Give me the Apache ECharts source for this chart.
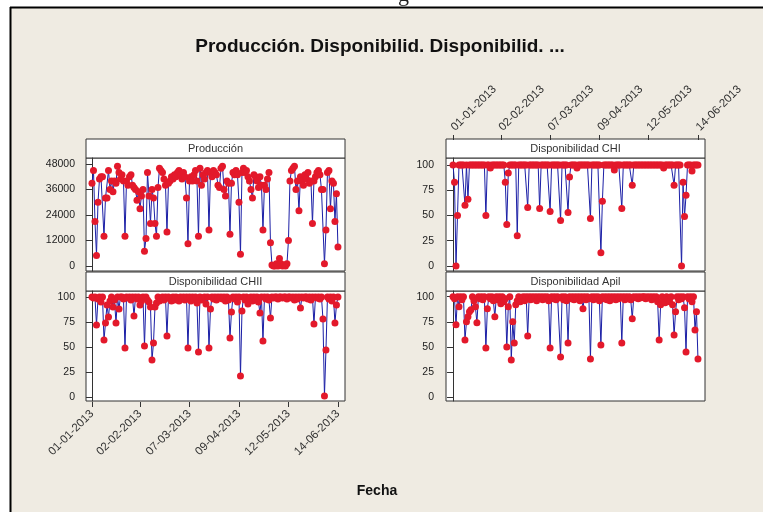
<!DOCTYPE html>
<html><head><meta charset="utf-8">
<script src="https://cdn.jsdelivr.net/npm/echarts@6/dist/echarts.min.js"></script>
<style>html,body{margin:0;padding:0;background:#fff}#c{width:763px;height:512px}</style>
</head><body><div id="c"></div>
<script>
// Day index 0 = 01-01-2013
const produccion = [
39000,45000,21000,5000,30000,41000,42000,42000,14000,32000,
32000,45000,36000,40000,35000,40000,39000,47000,44000,41000,
43000,40000,14000,40000,38000,42000,43000,38000,37000,36000,
31000,35000,27000,33000,36000,7000,13000,44000,33000,20000,
36000,32000,20000,14000,37000,46000,45000,44000,41000,38000,
16000,39000,40000,42000,41000,43000,42000,44000,45000,43000,
41000,44000,42000,32000,10500,40000,42000,40000,43000,45000,
40000,14000,46000,38000,43000,41000,44000,45000,17000,44000,
42000,45000,44000,43000,38000,37000,46000,47000,36000,33000,
40000,39000,15000,39000,44000,43000,45000,43000,30000,5500,
44000,46000,44000,45000,42000,40000,36000,32000,43000,42000,
40000,37000,42000,38000,17000,38000,36000,41000,44000,11000,
500,0,0,1000,0,3500,1000,0,500,0,
1000,12000,40000,45000,46000,47000,36000,40000,26000,42000,
40000,38000,43000,41000,44000,39000,40000,20000,40000,42000,
44000,45000,43000,36000,36000,1000,17000,44000,45000,27000,
40000,39000,21000,34000,9000];
const dispCHI = [
100,83,0,50,100,100,100,100,60,100,
66,100,100,100,100,100,100,100,100,100,
100,100,50,100,100,97,100,100,100,100,
100,100,100,100,100,83,41,92,100,100,
100,100,100,30,100,100,100,100,100,100,
58,100,100,100,100,100,100,100,57,100,
100,100,100,100,100,54,100,100,100,100,
100,100,45,100,100,100,100,53,88,100,
100,100,100,97,100,100,100,100,100,100,
100,100,47,100,100,100,100,100,100,13,
64,100,100,100,100,100,100,100,95,100,
100,100,100,57,100,100,100,100,100,100,
80,100,100,100,100,100,100,100,100,100,
100,100,100,100,100,100,100,100,100,100,
100,97,100,100,100,100,100,100,80,100,
100,100,100,0,83,49,70,100,100,100,
94,100,100,100,100];
const dispCHII = [
100,99,100,72,98,100,95,100,57,74,
92,80,96,100,90,97,74,100,88,100,
100,98,49,100,99,100,97,100,81,100,
98,100,92,96,100,51,100,97,95,90,
37,54,90,94,100,96,98,100,97,100,
61,100,98,96,100,97,100,99,96,100,
98,100,97,100,49,100,96,100,98,100,
94,45,100,97,99,100,93,100,49,88,
100,98,100,97,100,99,100,98,100,96,
100,97,59,85,100,98,100,95,100,21,
86,100,97,100,93,98,100,96,100,97,
100,95,84,100,56,100,98,100,97,79,
100,99,100,100,98,100,100,99,100,100,
98,100,100,99,100,97,100,98,100,89,
100,99,100,100,98,100,97,100,73,100,
99,100,98,100,78,1,47,100,98,100,
96,100,74,92,100];
const dispApil = [
100,98,72,100,90,100,97,100,57,75,
80,85,87,100,96,90,74,100,98,100,
97,100,49,88,100,98,100,96,80,100,
97,100,93,100,95,98,50,90,100,37,
75,54,92,96,100,95,98,100,96,100,
61,100,97,100,98,100,96,100,99,100,
97,100,98,100,96,49,100,98,100,97,
100,99,40,100,97,100,96,54,100,98,
100,97,100,98,100,96,100,88,100,97,
100,98,38,100,97,100,98,100,96,52,
100,98,100,97,100,96,100,98,100,97,
100,98,100,54,100,97,100,98,100,97,
78,100,99,100,98,100,99,100,100,98,
100,99,100,97,100,98,100,95,57,92,
100,96,94,100,97,95,100,92,62,85,
100,97,100,98,100,89,45,100,98,100,
95,100,67,85,38];
const tickDays = [0, 32, 65, 98, 131, 164];
const tickLabels = ['01-01-2013','02-02-2013','07-03-2013','09-04-2013','12-05-2013','14-06-2013'];
const prodTicks = [0, 12000, 24000, 36000, 48000];
const pctTicks = [0, 25, 50, 75, 100];
const panelTitles = ['Producción', 'Disponibilidad CHII', 'Disponibilidad CHI', 'Disponibilidad Apil'];
const mainTitle = 'Producción. Disponibilid. Disponibilid. ...';
const xTitle = 'Fecha';

const FONT = 'Liberation Sans';
const panels = [
  {data: produccion, left: 86, top: 158, h: 113, ymin: -2353, ymax: 50824, ticks: prodTicks, xmin: -4, xmax: 168.7, lm: 11},
  {data: dispCHII, left: 86, top: 291, h: 110, ymin: -4, ymax: 106, ticks: pctTicks, xmin: -4, xmax: 168.7, lm: 11},
  {data: dispCHI, left: 446, top: 158, h: 113, ymin: -5, ymax: 106.9, ticks: pctTicks, xmin: -4.7, xmax: 168.7, lm: 12},
  {data: dispApil, left: 446, top: 291, h: 110, ymin: -3.8, ymax: 105.7, ticks: pctTicks, xmin: -4.7, xmax: 168.7, lm: 12}
];
const W = 259;
const fmtX = v => { const i = tickDays.indexOf(v); return i >= 0 ? tickLabels[i] : ''; };

const grids = [], xAxes = [], yAxes = [], series = [], graphics = [];
panels.forEach((p, i) => {
  grids.push({left: p.left, top: p.top, width: W, height: p.h, show: true, backgroundColor: '#ffffff', borderColor: '#333', borderWidth: 1});
  xAxes.push({
    type: 'value', gridIndex: i, min: p.xmin, max: p.xmax, show: false, splitLine: {show: false}
  });
  yAxes.push({
    type: 'value', gridIndex: i, min: p.ymin, max: p.ymax,
    splitLine: {show: false},
    axisLine: {show: true, lineStyle: {color: '#333'}},
    axisTick: {show: true, customValues: p.ticks, length: 6, lineStyle: {color: '#333'}},
    axisLabel: {customValues: p.ticks, formatter: v => String(v), fontFamily: FONT, fontSize: 10.5, color: '#222', margin: p.lm}
  });
  series.push({
    type: 'line', xAxisIndex: i, yAxisIndex: i,
    data: p.data.map((v, d) => [d, v]),
    symbol: 'circle', symbolSize: 7, showSymbol: true,
    lineStyle: {color: '#1b1fa6', width: 1},
    itemStyle: {color: '#e3192b'},
    animation: false
  });
  graphics.push({type: 'rect', shape: {x: p.left, y: p.top - 19, width: W, height: 19}, style: {fill: '#ffffff', stroke: '#333', lineWidth: 1}});
  graphics.push({type: 'text', x: p.left + W / 2, y: p.top - 9.5, style: {text: panelTitles[i], fill: '#333', font: '11px "' + FONT + '"', align: 'center', verticalAlign: 'middle'}});
});

// date axes: bottom of left column, top of right column (above the strip)
const dateAxes = [
  {left: 86, top: 401, pos: 'bottom', xmin: -4, xmax: 168.7},
  {left: 446, top: 139, pos: 'top', xmin: -4.7, xmax: 168.7}
];
dateAxes.forEach(a => {
  const gi = grids.length;
  grids.push({left: a.left, top: a.top, width: W, height: 1, show: false});
  xAxes.push({
    type: 'value', gridIndex: gi, min: a.xmin, max: a.xmax, position: a.pos,
    splitLine: {show: false},
    axisLine: {show: false},
    axisTick: {show: true, customValues: tickDays, length: 5, lineStyle: {color: '#333'}},
    axisLabel: {customValues: tickDays, formatter: fmtX, rotate: 45, fontFamily: FONT, fontSize: 11.5, color: '#333', margin: 10}
  });
  yAxes.push({type: 'value', gridIndex: gi, show: false, min: 0, max: 1});
});

// figure frame
graphics.push({type: 'rect', shape: {x: 0, y: 0, width: 763, height: 7}, style: {fill: '#ffffff'}});
graphics.push({type: 'rect', shape: {x: 0, y: 0, width: 10, height: 512}, style: {fill: '#ffffff'}});
graphics.push({type: 'line', shape: {x1: 10, y1: 7.5, x2: 763, y2: 7.5}, style: {stroke: '#000', lineWidth: 2}});
graphics.push({type: 'line', shape: {x1: 10.5, y1: 7, x2: 10.5, y2: 512}, style: {stroke: '#000', lineWidth: 2}});
graphics.push({type: 'text', x: 398, y: 6, style: {text: 'g', fill: '#222', font: '22px "Liberation Serif"', verticalAlign: 'bottom'}});

const chart = echarts.init(document.getElementById('c'), null, {renderer: 'canvas'});
chart.setOption({
  backgroundColor: '#efebe2',
  animation: false,
  title: [
    {text: mainTitle, left: 375, top: 32, textAlign: 'center', textStyle: {fontFamily: FONT, fontSize: 19, fontWeight: 'bold', color: '#111'}},
    {text: xTitle, left: 372, top: 479, textAlign: 'center', textStyle: {fontFamily: FONT, fontSize: 14, fontWeight: 'bold', color: '#111'}}
  ],
  grid: grids, xAxis: xAxes, yAxis: yAxes, series: series,
  graphic: graphics
});
</script>
</body></html>
